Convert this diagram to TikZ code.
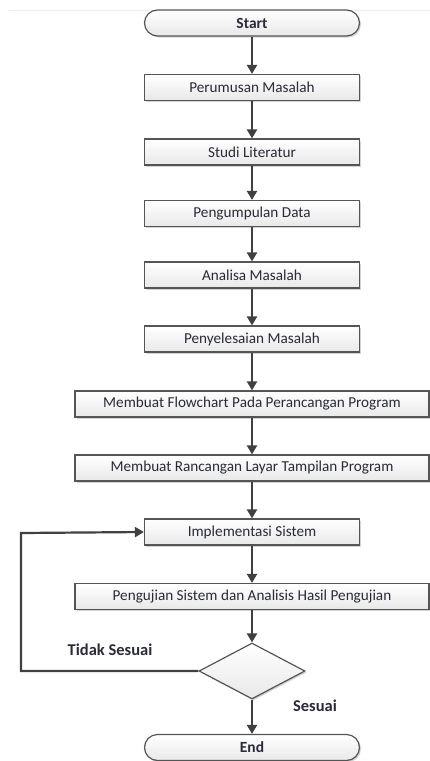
\documentclass[tikz,border=0pt]{standalone}
\usepackage{fontspec}
\setmainfont{Carlito}
\usetikzlibrary{arrows.meta,shapes.geometric,shadows}
\definecolor{edge}{HTML}{555555}
\definecolor{arr}{HTML}{404040}
\definecolor{txt}{HTML}{2A2A3A}
\tikzset{
  boxbase/.style={draw=edge, line width=1.2pt, top color=white, bottom color=gray!18,
    drop shadow={shadow xshift=1.5pt, shadow yshift=-1.5pt, opacity=0.35},
    minimum height=26pt, inner sep=0pt, font=\fontsize{15.2}{17}\selectfont, text=txt},
  procbox/.style={boxbase, minimum width=215pt},
  widebox/.style={boxbase, minimum width=354pt},
  termbox/.style={boxbase, rounded corners=13pt, minimum width=215pt, font=\fontsize{15.5}{17}\selectfont\bfseries},
  decbox/.style={diamond, draw=edge, line width=1.2pt, top color=white, bottom color=gray!18,
    drop shadow={shadow xshift=1.5pt, shadow yshift=-1.5pt, opacity=0.35},
    minimum width=106pt, minimum height=56pt, inner sep=0pt, aspect=1.9},
  flow/.style={draw=arr, line width=2.2pt, -{Triangle[length=9pt,width=10pt]}},
  lbl/.style={font=\fontsize{16.5}{18}\selectfont\bfseries, text=txt}
}
\begin{document}
\begin{tikzpicture}[x=1pt,y=-1pt]
\useasboundingbox (0,0) rectangle (430,761);
\draw[gray!15, line width=1pt] (10,10) -- (430,10);
\node[termbox] (start) at (252,23) {Start};
\node[procbox] (p1) at (252,87.5) {Perumusan Masalah};
\node[procbox] (p2) at (252,152) {Studi Literatur};
\node[procbox] (p3) at (252,213.5) {Pengumpulan Data};
\node[procbox] (p4) at (252,275) {Analisa Masalah};
\node[procbox] (p5) at (252,339) {Penyelesaian Masalah};
\node[widebox] (p6) at (252,404) {Membuat Flowchart Pada Perancangan Program};
\node[widebox] (p7) at (252,468) {Membuat Rancangan Layar Tampilan Program};
\node[procbox] (p8) at (252,532) {Implementasi Sistem};
\node[widebox] (p9) at (252,596.5) {Pengujian Sistem dan Analisis Hasil Pengujian};
\node[decbox] (d) at (252,671) {};
\node[termbox] (end) at (252,747.5) {End};
\coordinate (lb) at (21,671);
\coordinate (lt) at (21,533);
\draw[flow] (start) -- (p1);
\draw[flow] (p1) -- (p2);
\draw[flow] (p2) -- (p3);
\draw[flow] (p3) -- (p4);
\draw[flow] (p4) -- (p5);
\draw[flow] (p5) -- (p6);
\draw[flow] (p6) -- (p7);
\draw[flow] (p7) -- (p8);
\draw[flow] (p8) -- (p9);
\draw[flow] (p9) -- (d);
\draw[flow] (d) -- (end);
\draw[flow] (d.west) -- (lb) -- (lt) -- (p8.west);
\node[lbl] (t1) at (110,650) {Tidak Sesuai};
\node[lbl] (t2) at (315,706) {Sesuai};
\end{tikzpicture}
\end{document}
